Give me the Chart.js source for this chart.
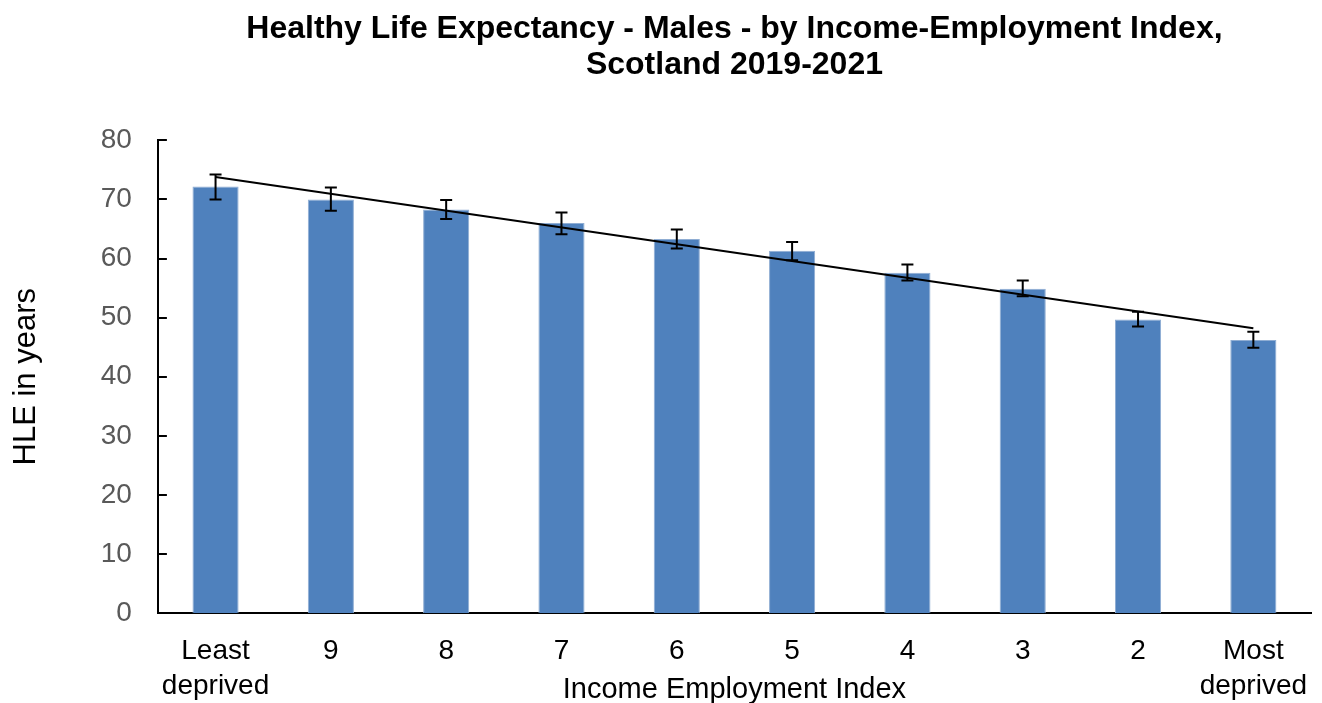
<!DOCTYPE html>
<html>
<head>
<meta charset="utf-8">
<script src="https://cdn.jsdelivr.net/npm/chart.js@4/dist/chart.umd.min.js"></script>
<style>
  html, body { margin: 0; padding: 0; background: #fff; }
  #wrap { width: 1322px; height: 703px; }
</style>
</head>
<body>
<div id="wrap"><canvas id="myChart"></canvas></div>
<script>
const labels = [["Least", "deprived"], "9", "8", "7", "6", "5", "4", "3", "2", ["Most", "deprived"]];
const hle = [72.2, 70.0, 68.3, 66.0, 63.3, 61.3, 57.6, 54.9, 49.7, 46.2];
const hleLower = [70.0, 68.1, 66.7, 64.1, 61.7, 59.7, 56.3, 53.6, 48.5, 44.9];
const hleUpper = [74.2, 72.0, 69.9, 67.8, 64.9, 62.8, 59.0, 56.3, 51.0, 47.6];
// trend line end points
const trend = [73.8, null, null, null, null, null, null, null, null, 48.2];

const font = "'Liberation Sans', Arial, sans-serif";

const errorBars = {
  id: "errorBars",
  afterDatasetsDraw(chart) {
    const ctx = chart.ctx;
    const y = chart.scales.y;
    const meta = chart.getDatasetMeta(1);
    ctx.save();
    ctx.strokeStyle = "#000";
    ctx.lineWidth = 2;
    meta.data.forEach((bar, i) => {
      const top = y.getPixelForValue(hleUpper[i]);
      const bot = y.getPixelForValue(hleLower[i]);
      ctx.beginPath();
      ctx.moveTo(bar.x, top);
      ctx.lineTo(bar.x, bot);
      ctx.moveTo(bar.x - 6, top);
      ctx.lineTo(bar.x + 6, top);
      ctx.moveTo(bar.x - 6, bot);
      ctx.lineTo(bar.x + 6, bot);
      ctx.stroke();
    });
    ctx.restore();
  },
};

// Excel-style inside tick marks on the value axis
const innerTicks = {
  id: "innerTicks",
  afterDraw(chart) {
    const ctx = chart.ctx;
    const y = chart.scales.y;
    const left = chart.chartArea.left;
    ctx.save();
    ctx.strokeStyle = "#000";
    ctx.lineWidth = 2;
    y.ticks.forEach((t, i) => {
      const py = Math.round(y.getPixelForTick(i));
      ctx.beginPath();
      ctx.moveTo(left, py);
      ctx.lineTo(left + 9, py);
      ctx.stroke();
    });
    ctx.restore();
  },
};

new Chart("myChart", {
  type: "bar",
  data: {
    labels: labels,
    datasets: [
      {
        type: "line",
        data: trend,
        borderColor: "#000",
        borderWidth: 2,
        pointRadius: 0,
        spanGaps: true,
        fill: false,
        order: 0,
      },
      {
        data: hle,
        backgroundColor: "#4F81BD",
        borderColor: "#8FADD3",
        borderWidth: 1,
        barPercentage: 0.4,
        categoryPercentage: 1,
        order: 1,
      },
    ],
  },
  options: {
    responsive: true,
    maintainAspectRatio: false,
    animation: false,
    layout: { padding: { left: 7, right: 11, top: 4, bottom: -4 } },
    plugins: {
      legend: { display: false },
      tooltip: { enabled: false },
      title: {
        display: true,
        fullSize: false,
        text: ["Healthy Life Expectancy - Males - by Income-Employment Index,", "Scotland 2019-2021"],
        color: "#000",
        font: { family: font, size: 32, weight: "bold", lineHeight: 1.13 },
        padding: { top: 7, bottom: 57 },
      },
    },
    scales: {
      x: {
        afterFit(scale) {
          scale.paddingLeft = 0;
          scale.paddingRight = 0;
        },
        grid: { display: false, drawTicks: false },
        border: { color: "#000", width: 2 },
        ticks: { color: "#000", font: { family: font, size: 28, lineHeight: 1.25 }, padding: 21, maxRotation: 0 },
        title: {
          display: true,
          text: "Income Employment Index",
          color: "#000",
          font: { family: font, size: 29, lineHeight: 1.2 },
          padding: { top: -53, bottom: 0 },
        },
      },
      y: {
        min: 0,
        max: 80,
        grid: { display: false, drawTicks: false },
        border: { color: "#000", width: 2 },
        ticks: { stepSize: 10, color: "#595959", font: { family: font, size: 28 }, padding: 26 },
        title: {
          display: true,
          text: "HLE in years",
          color: "#000",
          font: { family: font, size: 31, lineHeight: 1.25 },
          padding: { top: 0, bottom: 29 },
        },
      },
    },
  },
  plugins: [errorBars, innerTicks],
});
</script>
</body>
</html>
